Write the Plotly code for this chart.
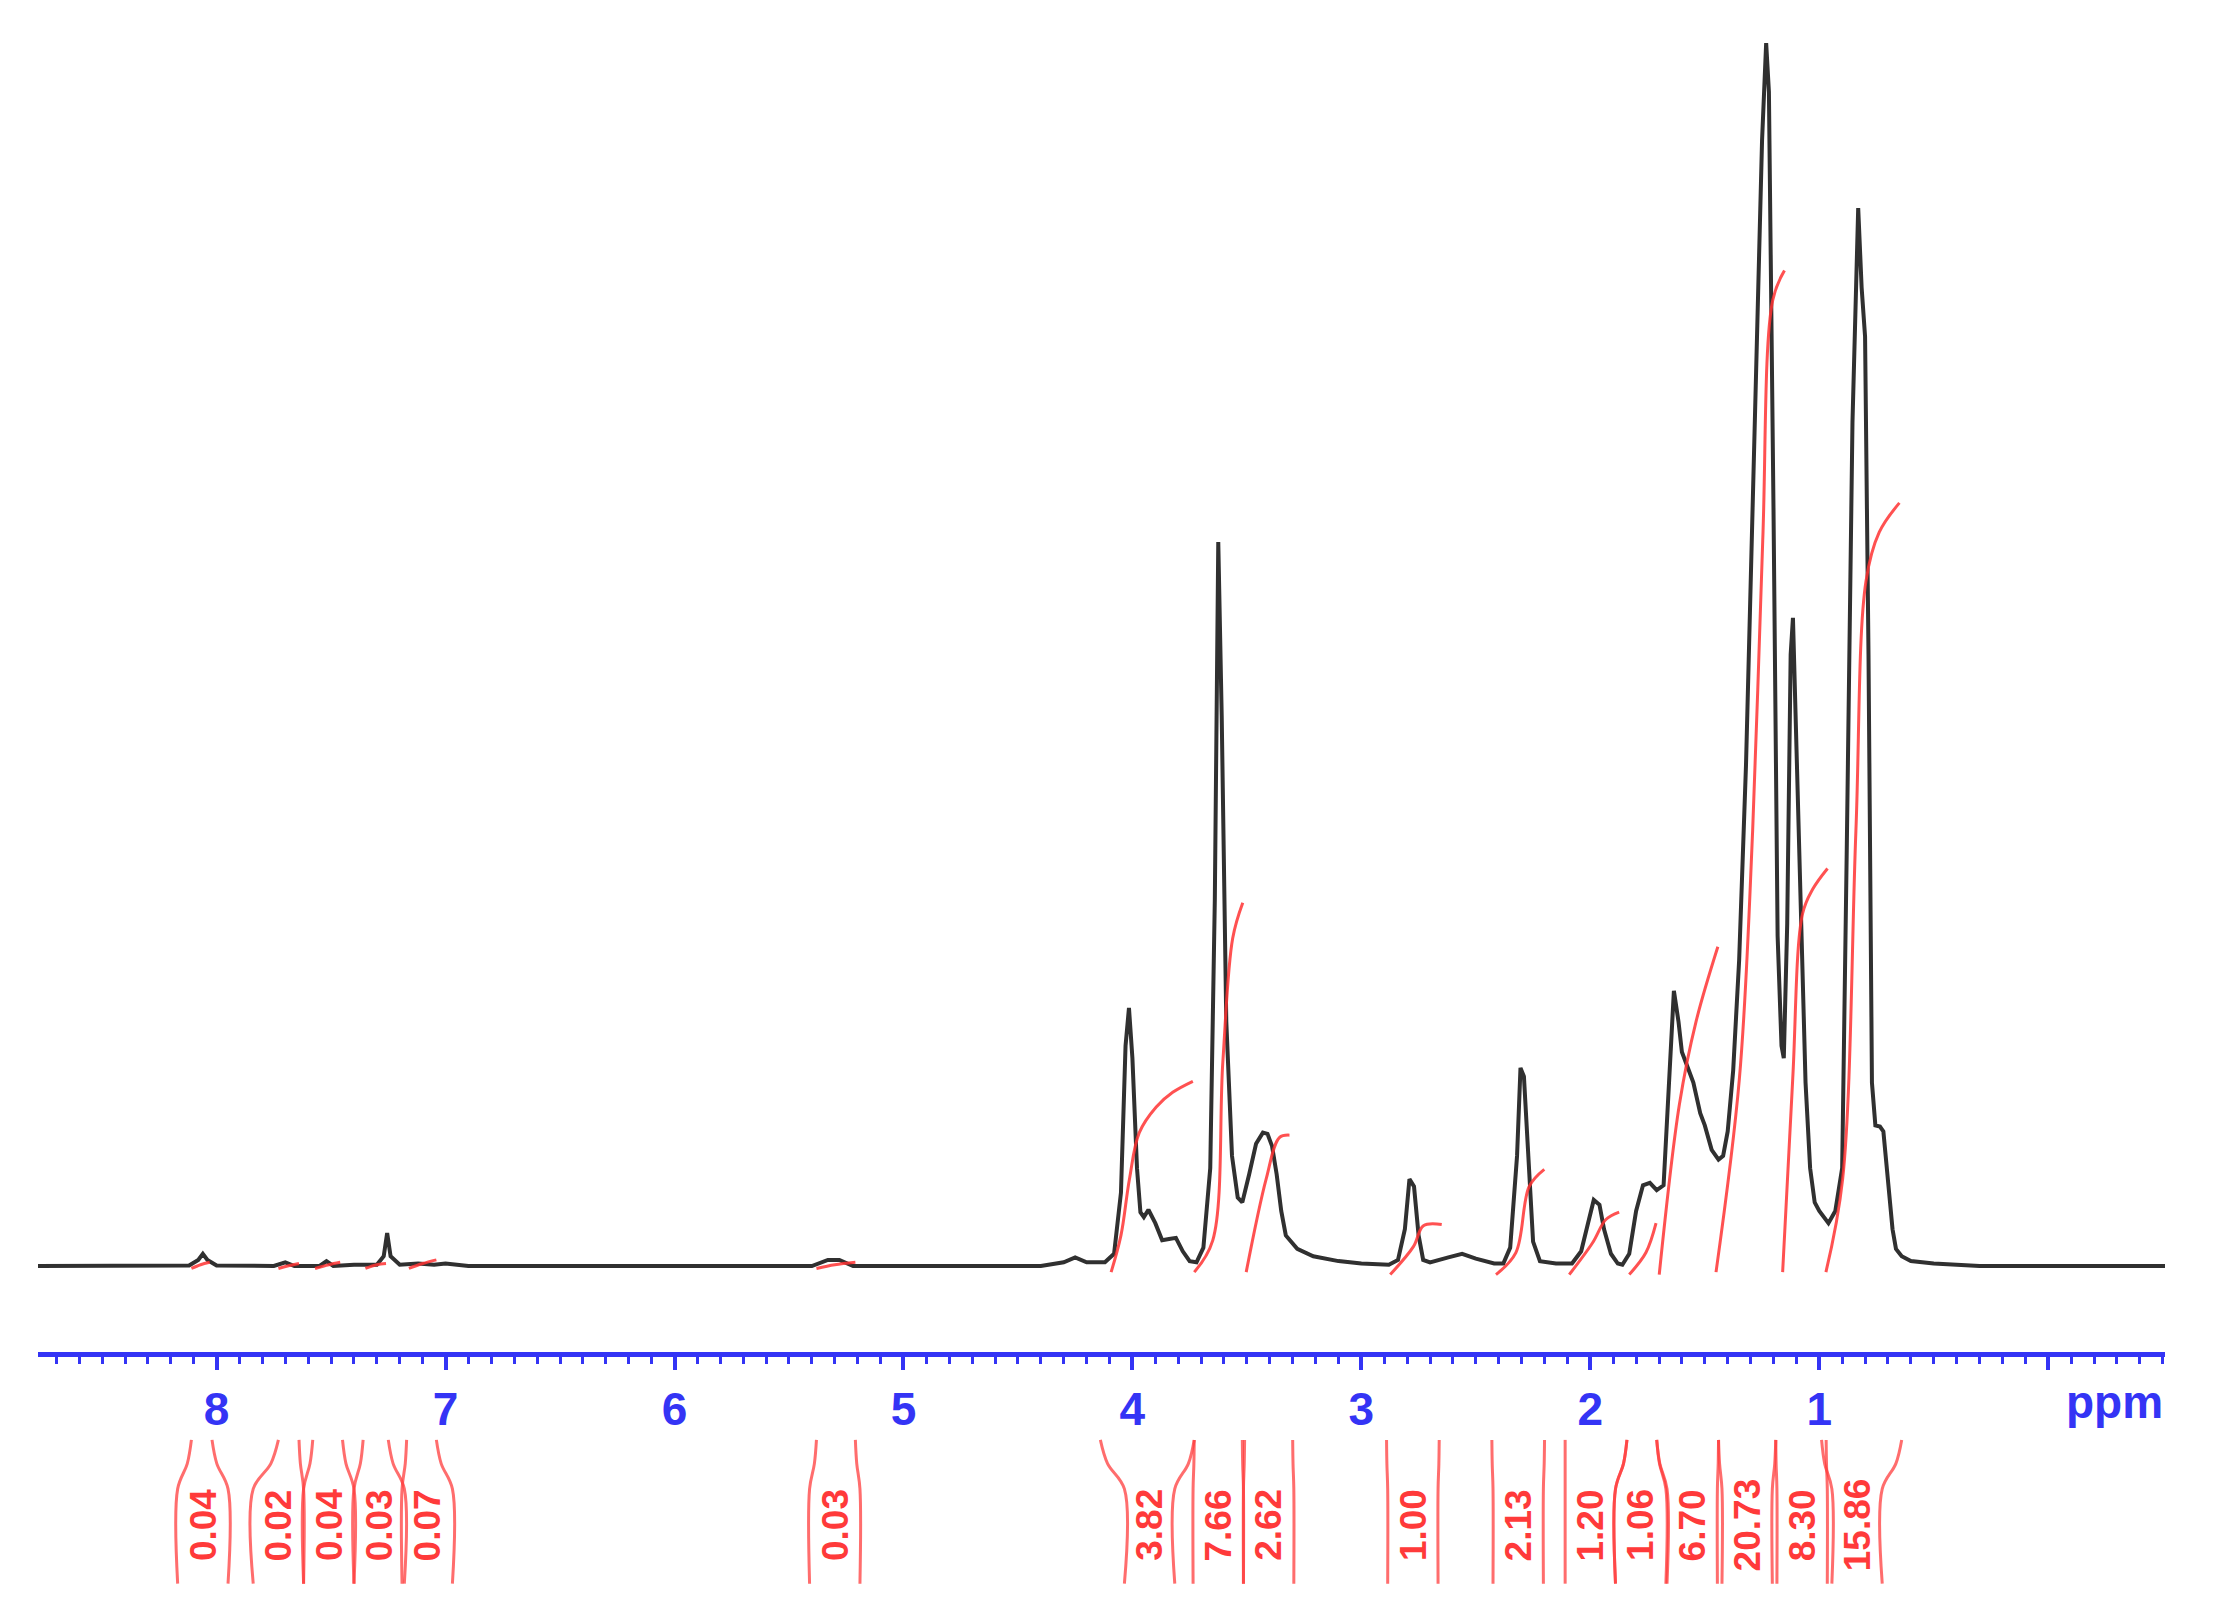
import plotly.graph_objects as go

# ---------------- spectrum (ppm, relative intensity; tallest peak = 100) ----------------
ppm = [8.78, 8.20, 8.12, 8.08, 8.06, 8.04, 8.00, 7.75, 7.70, 7.66, 7.55, 7.52, 7.49,
       7.40, 7.30, 7.27, 7.255, 7.24, 7.20, 7.12, 7.05, 7.00, 6.90, 5.40, 5.33, 5.28,
       5.22, 4.40, 4.30, 4.25, 4.20, 4.12, 4.08, 4.05, 4.03, 4.015, 4.00, 3.98, 3.965,
       3.95, 3.93, 3.90, 3.87, 3.84, 3.81, 3.78, 3.75, 3.72, 3.69, 3.66, 3.64, 3.625,
       3.61, 3.59, 3.565, 3.54, 3.52, 3.49, 3.46, 3.43, 3.41, 3.39, 3.37, 3.35, 3.33,
       3.28, 3.21, 3.10, 3.00, 2.88, 2.84, 2.81, 2.79, 2.77, 2.75, 2.73, 2.70, 2.62,
       2.56, 2.50, 2.42, 2.38, 2.35, 2.32, 2.305, 2.29, 2.27, 2.25, 2.22, 2.15, 2.08,
       2.04, 2.01, 1.985, 1.96, 1.94, 1.91, 1.88, 1.86, 1.83, 1.80, 1.77, 1.74, 1.71,
       1.68, 1.655, 1.635, 1.615, 1.60, 1.57, 1.55, 1.52, 1.50, 1.47, 1.44, 1.42, 1.40,
       1.376, 1.35, 1.32, 1.30, 1.27, 1.25, 1.232, 1.22, 1.20, 1.182, 1.165, 1.155,
       1.14, 1.125, 1.115, 1.103, 1.085, 1.06, 1.04, 1.02, 1.00, 0.96, 0.93, 0.90,
       0.88, 0.855, 0.83, 0.815, 0.80, 0.785, 0.77, 0.755, 0.735, 0.72, 0.70, 0.68,
       0.665, 0.64, 0.60, 0.50, 0.30, -0.51]
intensity = [0, 0, 0.05, 0.5, 1.0, 0.5, 0.05, 0, 0.3, 0, 0, 0.4, 0,
             0.1, 0.1, 0.8, 2.7, 0.8, 0.1, 0.2, 0.1, 0.2, 0, 0, 0.5, 0.5,
             0, 0, 0.3, 0.7, 0.3, 0.3, 1.0, 6, 18, 21.1, 17, 8, 4.4,
             4.0, 4.6, 3.5, 2.1, 2.2, 2.3, 1.2, 0.4, 0.3, 1.5, 8, 30, 59.2,
             45, 20, 9, 5.6, 5.2, 7.5, 10, 10.9, 10.8, 9.8, 7.5, 4.5, 2.5,
             1.4, 0.8, 0.4, 0.2, 0.1, 0.5, 3, 7.1, 6.5, 2.5, 0.5, 0.3, 0.7,
             1.0, 0.6, 0.2, 0.2, 1.5, 9, 16.2, 15.5, 8, 2, 0.4, 0.2, 0.2,
             1.2, 3.5, 5.4, 5.0, 3.0, 1.0, 0.2, 0.1, 1.0, 4.5, 6.6, 6.8, 6.2,
             6.6, 15, 22.5, 20, 17.5, 16, 15, 12.5, 11.5, 9.5, 8.7, 9.0, 11,
             16, 25, 41, 55, 76, 92, 100, 96, 62, 27, 18, 17,
             28, 50, 53, 45, 31, 15, 8, 5.2, 4.5, 3.5, 4.5, 8,
             34, 69, 86.5, 80, 76, 50, 15, 11.5, 11.4, 11, 7, 3,
             1.4, 0.8, 0.4, 0.2, 0, 0]

# ---------------- integral curves (ppm, integral level in spectrum units) ----------------
integral_x = [
    [8.11, 8.07, 8.03],
    [7.73, 7.69, 7.64],
    [7.57, 7.51, 7.46],
    [7.35, 7.30, 7.26],
    [7.16, 7.10, 7.04],
    [5.38, 5.30, 5.21],
    [4.093, 4.05, 4.013, 3.97, 3.896, 3.824, 3.736],
    [3.73, 3.649, 3.605, 3.562, 3.518],
    [3.503, 3.416, 3.358, 3.314],
    [2.874, 2.772, 2.729, 2.649],
    [2.412, 2.325, 2.267, 2.201],
    [2.092, 1.99, 1.932, 1.874],
    [1.83, 1.757, 1.713],
    [1.699, 1.611, 1.538, 1.443],
    [1.451, 1.349, 1.291, 1.247, 1.203, 1.152],
    [1.160, 1.116, 1.073, 1.029, 0.964],
    [0.971, 0.898, 0.840, 0.796, 0.738, 0.650],
]
integral_y = [
    [-0.2, 0.1, 0.3],
    [-0.2, 0.0, 0.2],
    [-0.2, 0.1, 0.3],
    [-0.2, 0.1, 0.2],
    [-0.2, 0.2, 0.5],
    [-0.2, 0.1, 0.3],
    [-0.5, 2.5, 7.1, 10.9, 13.0, 14.2, 15.1],
    [-0.5, 2.1, 16.7, 26.8, 29.7],
    [-0.5, 7.1, 10.5, 10.7],
    [-0.7, 1.6, 3.3, 3.4],
    [-0.7, 1.1, 6.5, 7.9],
    [-0.7, 1.9, 3.8, 4.4],
    [-0.7, 1.1, 3.5],
    [-0.7, 13.2, 20.0, 26.1],
    [-0.5, 15.3, 35.6, 59.3, 79.0, 81.4],
    [-0.5, 15.3, 28.8, 30.8, 32.5],
    [-0.5, 7.1, 35.6, 56.0, 60.0, 62.4],
]

# ---------------- integral labels ----------------
integ_labels = ["0.04", "0.02", "0.04", "0.03", "0.07", "0.03",
                "3.82", "7.66", "2.62", "1.00", "2.13", "1.20", "1.06",
                "6.70", "20.73", "8.30", "15.86"]
integ_label_pos = [8.06, 7.73, 7.51, 7.29, 7.08, 5.30,
                   3.925, 3.625, 3.405, 2.775, 2.315, 2.00, 1.78,
                   1.555, 1.315, 1.075, 0.835]
integ_start = [8.11, 7.73, 7.58, 7.36, 7.17, 5.38,
               4.14, 3.73, 3.51, 2.89, 2.43, 2.11, 1.84,
               1.71, 1.44, 1.19, 0.99]
integ_end = [8.02, 7.64, 7.45, 7.25, 7.04, 5.21,
             3.73, 3.52, 3.30, 2.66, 2.20, 1.84, 1.71,
             1.44, 1.19, 0.97, 0.64]

tick_vals = [0, 1, 2, 3, 4, 5, 6, 7, 8]
tick_text = ["", "1", "2", "3", "4", "5", "6", "7", "8"]

BLUE = "#3434f5"
RED = "#ff3a3a"
NARROW = "Liberation Sans Narrow, Arial Narrow, Liberation Sans, Arial, sans-serif"
OFF = 8  # page body offset in px
H = 1615

fig = go.Figure()

fig.add_trace(go.Scatter(x=ppm, y=intensity, mode="lines",
                         line=dict(color="#303030", width=4),
                         xaxis="x", yaxis="y", hoverinfo="skip"))

for xs, ys in zip(integral_x, integral_y):
    fig.add_trace(go.Scatter(x=xs, y=ys, mode="lines",
                             line=dict(color="rgba(255,50,50,0.85)", width=3, shape="spline"),
                             xaxis="x", yaxis="y", hoverinfo="skip"))

# brackets around the integral labels (drawn in the lower label strip)
HALF = 0.11
bx, by = [], []
for pos, s, e in zip(integ_label_pos, integ_start, integ_end):
    left_box = pos + HALF
    right_box = pos - HALF
    for top, box in ((s, left_box), (e, right_box)):
        bx += [top, top + 0.3 * (box - top), box, box, None]
        by += [0.95, 0.80, 0.64, 0.04, None]
fig.add_trace(go.Scatter(x=bx, y=by, mode="lines",
                         line=dict(color="rgba(255,60,60,0.75)", width=3, shape="spline"),
                         xaxis="x", yaxis="y2", hoverinfo="skip", connectgaps=False))

for lab, pos in zip(integ_labels, integ_label_pos):
    fig.add_annotation(x=pos, y=0.41, xref="x", yref="y2", text=lab, showarrow=False,
                       textangle=-90, xanchor="center", yanchor="middle",
                       font=dict(family=NARROW, size=37, color=RED, weight="bold"))

fig.add_annotation(x=-0.29, y=1 - (1402 - OFF) / H, xref="x", yref="paper", text="ppm",
                   showarrow=False, xanchor="center", yanchor="middle",
                   font=dict(family="Liberation Sans, Arial, sans-serif", size=46,
                             color=BLUE, weight="bold"))

bottom = 1352 - OFF
top = 30 - OFF
base = 1266 - OFF
ppu = (1266 - 43) / 100.0
fig.update_layout(
    width=2236, height=H,
    margin=dict(l=38 - OFF, r=71 + OFF, t=0, b=0),
    paper_bgcolor="white", plot_bgcolor="white",
    showlegend=False,
    xaxis=dict(range=[8.78, -0.51], anchor="y", showline=True, linecolor=BLUE,
               linewidth=5, ticks="outside", ticklen=13, tickwidth=4, tickcolor=BLUE,
               tickmode="array", tickvals=tick_vals, ticktext=tick_text,
               tickfont=dict(family=NARROW, size=46, color=BLUE, weight="bold"),
               minor=dict(tickmode="linear", tick0=0, dtick=0.1, ticks="outside",
                          ticklen=7, tickwidth=3, tickcolor=BLUE, showgrid=False),
               showgrid=False, zeroline=False),
    yaxis=dict(domain=[1 - bottom / H, 1 - top / H],
               range=[-(bottom - base) / ppu, (base - top) / ppu],
               visible=False, showgrid=False, zeroline=False),
    yaxis2=dict(domain=[1 - (1590 - OFF) / H, 1 - (1432 - OFF) / H], range=[0, 1], anchor="x",
                visible=False, showgrid=False, zeroline=False),
)

fig.write_html("out.html")
